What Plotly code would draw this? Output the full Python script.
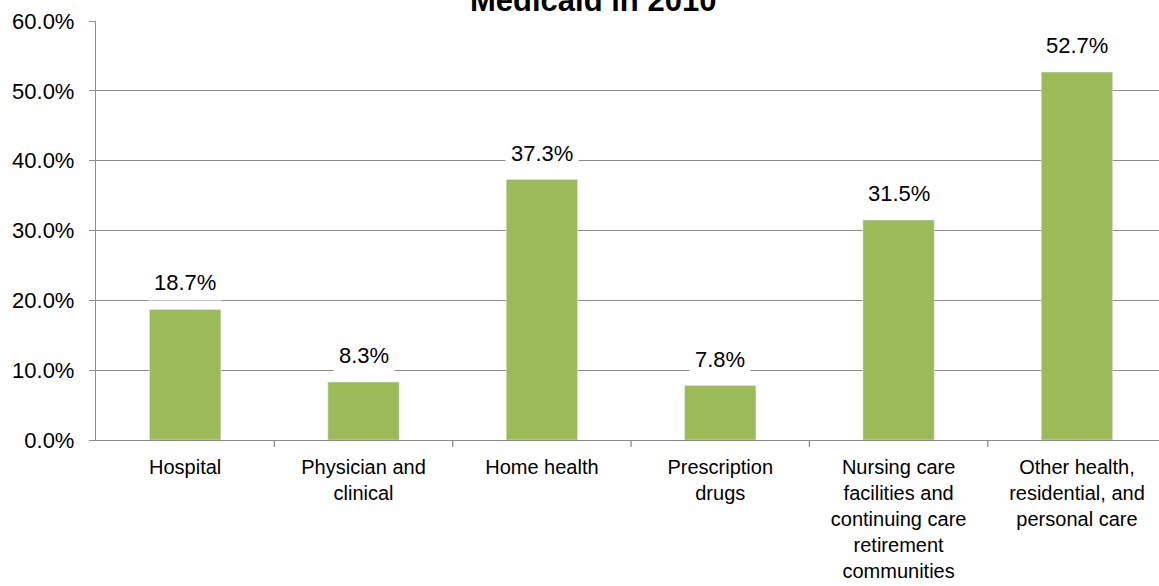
import plotly.graph_objects as go

categories = ["Hospital", "Physician and<br>clinical", "Home health", "Prescription<br>drugs",
              "Nursing care<br>facilities and<br>continuing care<br>retirement<br>communities",
              "Other health,<br>residential, and<br>personal care"]
values = [18.7, 8.3, 37.3, 7.8, 31.5, 52.7]
y_ticks = [0, 10, 20, 30, 40, 50, 60]
title_text = "Medicaid in 2010"

FONT = "Liberation Sans, Arial, sans-serif"
GRID = "#8c8c8c"

fig = go.Figure()
fig.add_trace(go.Bar(x=list(range(len(categories))), y=values, marker_color="#9BBB59",
                     width=0.4, hoverinfo="skip"))

for i, v in enumerate(values):
    fig.add_annotation(x=i, y=v, text=f"{v:.1f}%", showarrow=False, yanchor="bottom",
                       yshift=8, bgcolor="white", borderpad=5,
                       font=dict(family=FONT, size=22, color="black"))

fig.add_annotation(xref="paper", yref="paper", x=0.468, y=1.05, text=f"<b>{title_text}</b>",
                   showarrow=False, yanchor="middle",
                   font=dict(family=FONT, size=31, color="black"))

fig.update_layout(
    width=1159, height=586,
    margin=dict(l=96, r=0, t=21, b=146, autoexpand=False),
    paper_bgcolor="white", plot_bgcolor="white",
    showlegend=False,
    font=dict(family=FONT, size=21, color="black"),
)
fig.update_yaxes(range=[0, 60], tickvals=y_ticks, ticktext=[f"{t:.1f}%" for t in y_ticks],
                 showgrid=True, gridcolor=GRID, gridwidth=1.3,
                 showline=True, linecolor=GRID, linewidth=1.3,
                 ticks="outside", ticklen=6, tickcolor=GRID, zeroline=False,
                 ticklabelstandoff=10, automargin=False,
                 tickfont=dict(family=FONT, size=22, color="black"))
fig.update_xaxes(range=[-0.5, 5.46], tickvals=list(range(len(categories))), ticktext=categories,
                 showline=True, linecolor=GRID, linewidth=1.3,
                 ticks="", showgrid=False, ticklabelstandoff=9, automargin=False,
                 tickfont=dict(family=FONT, size=20, color="black"))

# category boundary tick marks drawn on the axis scale
for b in [k + 0.5 for k in range(len(categories) - 1)]:
    fig.add_shape(type="line", xref="x", yref="paper", x0=b, x1=b, y0=0, y1=-0.016,
                  line=dict(color=GRID, width=1.3))

fig.write_html("out.html")
